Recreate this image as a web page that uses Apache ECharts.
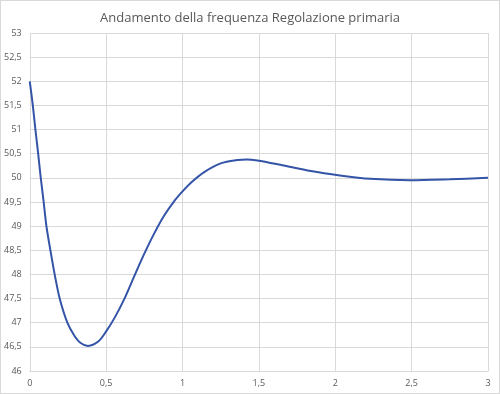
<!DOCTYPE html>
<html><head><meta charset="utf-8">
<script src="https://cdn.jsdelivr.net/npm/echarts@6/dist/echarts.min.js"></script>
<style>html,body{margin:0;padding:0;background:#fff}#c{width:498px;height:392px;border:1px solid #d9d9d9}</style>
</head><body><div id="c"></div>
<script>
const titleText = "Andamento della frequenza Regolazione primaria";
const timeValues = [0, 0.02, 0.037, 0.055, 0.072, 0.091, 0.109, 0.135, 0.163, 0.196, 0.246, 0.294, 0.333, 0.381, 0.448, 0.5, 0.555, 0.62, 0.685, 0.75, 0.815, 0.88, 0.946, 1.0, 1.055, 1.142, 1.25, 1.36, 1.42, 1.49, 1.64, 1.84, 2.03, 2.23, 2.49, 2.75, 3.0];
const freqValues = [52, 51.5, 51, 50.5, 50, 49.5, 49, 48.5, 48, 47.5, 47, 46.72, 46.58, 46.52, 46.61, 46.82, 47.1, 47.5, 47.97, 48.43, 48.85, 49.22, 49.52, 49.72, 49.9, 50.12, 50.3, 50.37, 50.38, 50.36, 50.27, 50.14, 50.05, 49.98, 49.95, 49.97, 50.0];
const yMin = 46, yMax = 53, yStep = 0.5;
const xMin = 0, xMax = 3, xStep = 0.5;
const fmt = v => String(v).replace('.', ',');
const chart = echarts.init(document.getElementById('c'));
chart.setOption({
  animation: false,
  title: { text: titleText, left: 'center', top: 6, textStyle: { fontFamily: 'Open Sans', fontSize: 13, fontWeight: 'normal', color: '#595959' } },
  grid: { left: 27, right: 11, top: 32, bottom: 22 },
  xAxis: { type: 'value', min: xMin, max: xMax, interval: xStep,
    axisLine: { show: true, lineStyle: { color: '#d9d9d9' } }, axisTick: { show: false },
    splitLine: { lineStyle: { color: '#d9d9d9' } },
    axisLabel: { formatter: fmt, color: '#595959', fontSize: 9, fontFamily: 'Open Sans', margin: 8 } },
  yAxis: { type: 'value', min: yMin, max: yMax, interval: yStep,
    axisLine: { show: false }, axisTick: { show: false },
    splitLine: { lineStyle: { color: '#d9d9d9' } },
    axisLabel: { formatter: fmt, color: '#595959', fontSize: 9, fontFamily: 'Open Sans', margin: 8 } },
  series: [{ type: 'line', smooth: 0.3, showSymbol: false,
    data: timeValues.map((t, i) => [t, freqValues[i]]),
    lineStyle: { color: '#3454a8', width: 2 } }]
});
</script></body></html>
